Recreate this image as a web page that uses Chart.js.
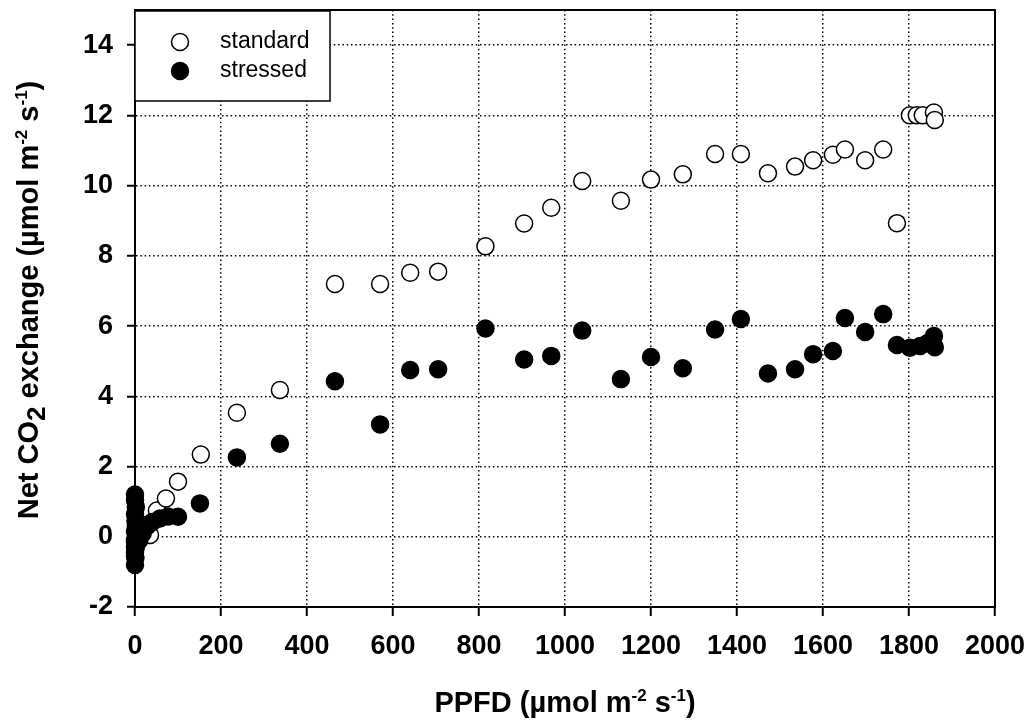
<!DOCTYPE html>
<html>
<head>
<meta charset="utf-8">
<script src="https://cdn.jsdelivr.net/npm/chart.js@4/dist/chart.umd.min.js"></script>
<style>
  html, body { margin: 0; padding: 0; background: #fff; }
</style>
</head>
<body>
<canvas id="chart" width="1032" height="726"></canvas>
<script>
// series names
const seriesNames = ["standard", "stressed"];

// standard plants (open circles): PPFD and net CO2 exchange
const standardX = [0, 0, 0, 3, 8, 15, 35, 51, 72, 100, 153, 237, 337,
  465, 570, 640, 705, 815, 905, 968, 1040, 1130, 1200, 1274, 1349, 1409,
  1472, 1535, 1577, 1623, 1651, 1698, 1740, 1772, 1802, 1818, 1832, 1858, 1860];
const standardY = [-0.55, -0.3, -0.1, 0.1, 0.25, 0.35, 0.05, 0.75, 1.09, 1.57, 2.34, 3.53, 4.18,
  7.2, 7.2, 7.52, 7.55, 8.27, 8.92, 9.37, 10.13, 9.57, 10.17, 10.32, 10.9, 10.9,
  10.35, 10.54, 10.72, 10.88, 11.03, 10.72, 11.03, 8.93, 12.0, 12.0, 12.0, 12.08, 11.87];

// stressed plants (filled circles)
const stressedX = [0, 0, 2, 0, 1, 2, 0, 3, 0, 2, 0, 1, 0, 10, 18, 28, 40, 58, 77, 100, 151, 237, 337,
  465, 570, 640, 705, 815, 905, 968, 1040, 1130, 1200, 1274, 1349, 1409,
  1472, 1535, 1577, 1623, 1651, 1698, 1740, 1772, 1802, 1826, 1844, 1858, 1860];
const stressedY = [1.2, 1.05, 0.85, 0.65, 0.45, 0.3, 0.15, 0, -0.15, -0.3, -0.45, -0.6, -0.8,
  -0.1, 0.1, 0.3, 0.42, 0.52, 0.58, 0.57, 0.95, 2.26, 2.65,
  4.43, 3.2, 4.75, 4.77, 5.93, 5.05, 5.15, 5.87, 4.49, 5.12, 4.8, 5.9, 6.2,
  4.65, 4.77, 5.2, 5.29, 6.23, 5.83, 6.34, 5.46, 5.38, 5.43, 5.52, 5.72, 5.4];

// axis ticks
const xTicks = [0, 200, 400, 600, 800, 1000, 1200, 1400, 1600, 1800, 2000];
const yTicks = [-2, 0, 2, 4, 6, 8, 10, 12, 14];

const FONT = '"Liberation Sans", Arial, Helvetica, sans-serif';

function toPoints(xs, ys) {
  return xs.map((x, i) => ({ x: x, y: ys[i] }));
}

// draws text made of parts with different sizes and vertical offsets
function drawRich(ctx, parts, x, y) {
  let total = 0;
  parts.forEach(p => {
    ctx.font = 'bold ' + p.s + 'px ' + FONT;
    p.w = ctx.measureText(p.t).width;
    total += p.w;
  });
  let cx = x - total / 2;
  ctx.textAlign = 'left';
  ctx.textBaseline = 'alphabetic';
  parts.forEach(p => {
    ctx.font = 'bold ' + p.s + 'px ' + FONT;
    ctx.fillText(p.t, cx, y + (p.dy || 0));
    cx += p.w;
  });
}

const xTitle = [
  { t: 'PPFD (µmol m', s: 29 },
  { t: '-2', s: 17, dy: -11 },
  { t: ' s', s: 29 },
  { t: '-1', s: 17, dy: -11 },
  { t: ')', s: 29 }
];
const yTitle = [
  { t: 'Net CO', s: 29 },
  { t: '2', s: 26, dy: 7 },
  { t: ' exchange (µmol m', s: 29 },
  { t: '-2', s: 17, dy: -11 },
  { t: ' s', s: 29 },
  { t: '-1', s: 17, dy: -11 },
  { t: ')', s: 29 }
];

const framePlugin = {
  id: 'frame',
  afterDraw(chart) {
    const { ctx, chartArea: a } = chart;
    ctx.save();
    ctx.fillStyle = '#000';
    // axis titles
    drawRich(ctx, xTitle, (a.left + a.right) / 2, 712);
    ctx.save();
    ctx.translate(38, 300);
    ctx.rotate(-Math.PI / 2);
    drawRich(ctx, yTitle, 0, 0);
    ctx.restore();

    // plot frame
    ctx.strokeStyle = '#000';
    ctx.lineWidth = 2;
    ctx.strokeRect(a.left, a.top, a.right - a.left, a.bottom - a.top);

    // legend box
    const bx = a.left, by = a.top + 1, bw = 195, bh = 90;
    ctx.fillStyle = '#fff';
    ctx.fillRect(bx, by, bw, bh);
    ctx.lineWidth = 1.5;
    ctx.strokeRect(bx, by, bw, bh);
    chart.data.datasets.forEach((ds, i) => {
      const cy = by + 31 + i * 29;
      ctx.beginPath();
      ctx.arc(bx + 45, cy, 8.5, 0, Math.PI * 2);
      ctx.fillStyle = ds.backgroundColor;
      ctx.fill();
      ctx.lineWidth = 1.5;
      ctx.strokeStyle = ds.borderColor;
      ctx.stroke();
      ctx.fillStyle = '#000';
      ctx.font = '23px ' + FONT;
      ctx.textAlign = 'left';
      ctx.textBaseline = 'middle';
      ctx.fillText(ds.label, bx + 85, cy);
    });
    ctx.restore();
  }
};

const tickFont = { family: FONT, size: 27, weight: 'bold' };

new Chart(document.getElementById('chart').getContext('2d'), {
  type: 'scatter',
  data: {
    datasets: [
      {
        label: seriesNames[0],
        data: toPoints(standardX, standardY),
        backgroundColor: '#fff',
        borderColor: '#000',
        borderWidth: 1.5,
        pointRadius: 8.5,
        clip: false,
        order: 1
      },
      {
        label: seriesNames[1],
        data: toPoints(stressedX, stressedY),
        backgroundColor: '#000',
        borderColor: '#000',
        borderWidth: 1.5,
        pointRadius: 8.5,
        clip: false,
        order: 0
      }
    ]
  },
  options: {
    responsive: false,
    animation: false,
    layout: { padding: { top: 8, right: 37, left: 0, bottom: 0 } },
    plugins: { legend: { display: false }, tooltip: { enabled: false } },
    scales: {
      x: {
        type: 'linear',
        min: 0,
        max: 2000,
        afterBuildTicks: s => { s.ticks = xTicks.map(v => ({ value: v })); },
        afterFit: s => { s.height = 119; s.paddingLeft = 0; s.paddingRight = 0; },
        grid: { color: '#000', lineWidth: 1.5, tickLength: 9, tickColor: '#000', tickWidth: 2 },
        border: { display: true, color: '#000', width: 2, dash: [1.5, 2.8] },
        ticks: { color: '#000', font: tickFont, padding: 14, maxRotation: 0, callback: v => String(v) }
      },
      y: {
        type: 'linear',
        min: -2,
        max: 15,
        afterBuildTicks: s => { s.ticks = yTicks.map(v => ({ value: v })); },
        afterFit: s => { s.width = 135; s.paddingTop = 0; s.paddingBottom = 0; },
        grid: { color: '#000', lineWidth: 1.5, tickLength: 8, tickColor: '#000', tickWidth: 2 },
        border: { display: true, color: '#000', width: 2, dash: [1.5, 2.8] },
        ticks: { color: '#000', font: tickFont, padding: 14, callback: v => String(v) }
      }
    }
  },
  plugins: [framePlugin]
});
</script>
</body>
</html>
